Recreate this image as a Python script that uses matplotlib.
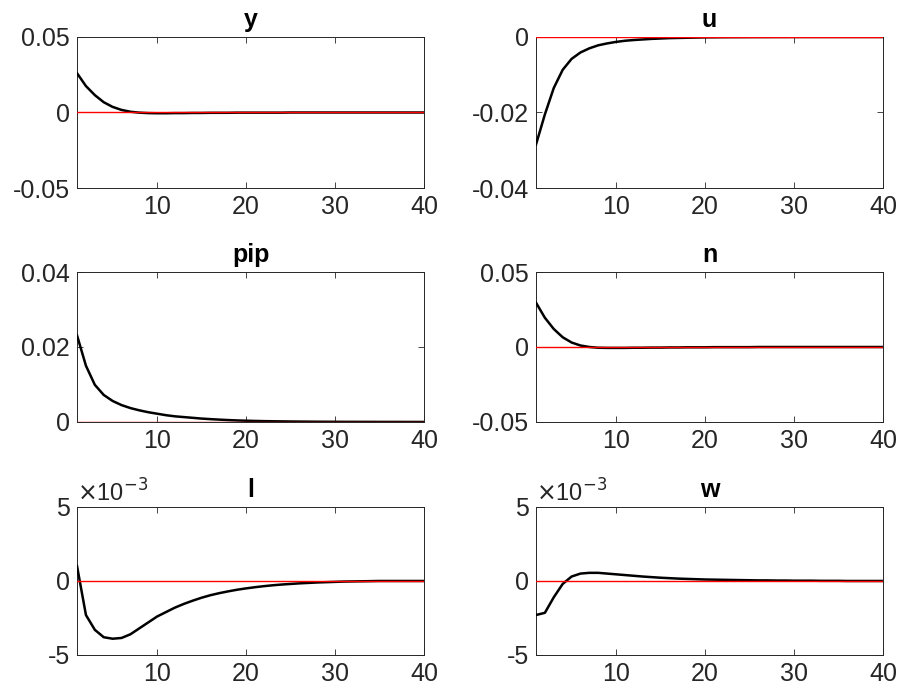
import matplotlib
matplotlib.use("Agg")
import matplotlib.pyplot as plt
import numpy as np

plt.rcParams['font.family'] = ['Liberation Sans', 'DejaVu Sans']
plt.rcParams['axes.unicode_minus'] = False

periods = np.arange(1, 41)

y_irf = [0.026, 0.0175, 0.0115, 0.0068, 0.0037, 0.0017, 0.0005, -0.0001, -0.0004, -0.0005,
         -0.0005, -0.0004, -0.0004, -0.0003, -0.0003, -0.0002, -0.0002, -0.0002, -0.0001, -0.0001,
         -0.0001, -0.0001, -0.0001, -0.0001, 0.0, 0.0, 0.0, 0.0, 0.0, 0.0,
         0.0, 0.0, 0.0, 0.0, 0.0, 0.0, 0.0, 0.0, 0.0, 0.0]
u_irf = [-0.0285, -0.0205, -0.0135, -0.0087, -0.0058, -0.0041, -0.0030, -0.0022, -0.0017, -0.0013,
         -0.0010, -0.0008, -0.00065, -0.0005, -0.0004, -0.0003, -0.00025, -0.0002, -0.00015, -0.0001,
         -0.00008, -0.00006, -0.00005, -0.00004, -0.00003, -0.00002, -0.00002, -0.00001, -0.00001, 0.0,
         0.0, 0.0, 0.0, 0.0, 0.0, 0.0, 0.0, 0.0, 0.0, 0.0]
pip_irf = [0.0231, 0.0150, 0.0099, 0.0072, 0.0056, 0.0045, 0.0037, 0.0031, 0.0026, 0.0022,
           0.0018, 0.0015, 0.0013, 0.0011, 0.0009, 0.00075, 0.00062, 0.0005, 0.0004, 0.00033,
           0.00027, 0.00022, 0.00018, 0.00015, 0.00012, 0.0001, 0.00008, 0.00006, 0.00005, 0.00004,
           0.00003, 0.00003, 0.00002, 0.00002, 0.00001, 0.00001, 0.00001, 0.0, 0.0, 0.0]
n_irf = [0.0296, 0.0195, 0.0120, 0.0065, 0.0030, 0.0010, 0.0000, -0.0005, -0.0006, -0.0006,
         -0.0006, -0.0005, -0.0005, -0.0004, -0.0004, -0.0003, -0.0003, -0.0002, -0.0002, -0.0002,
         -0.0001, -0.0001, -0.0001, -0.0001, -0.0001, 0.0, 0.0, 0.0, 0.0, 0.0,
         0.0, 0.0, 0.0, 0.0, 0.0, 0.0, 0.0, 0.0, 0.0, 0.0]
l_irf = [0.0010, -0.0023, -0.0033, -0.0038, -0.0039, -0.00385, -0.0036, -0.0032, -0.0028, -0.0024,
         -0.0021, -0.0018, -0.00155, -0.00133, -0.00113, -0.00096, -0.00082, -0.0007, -0.00059, -0.0005,
         -0.00042, -0.00035, -0.00029, -0.00024, -0.0002, -0.00016, -0.00013, -0.0001, -0.00008, -0.00006,
         -0.00004, -0.00003, -0.00002, -0.00001, 0.0, 0.0, 0.0, 0.0, 0.0, 0.0]
w_irf = [-0.0023, -0.00215, -0.0011, -0.0002, 0.0003, 0.0005, 0.00055, 0.00055, 0.0005, 0.00045,
         0.0004, 0.00035, 0.0003, 0.00026, 0.00022, 0.00019, 0.00016, 0.00014, 0.00012, 0.0001,
         0.00009, 0.00008, 0.00007, 0.00006, 0.00005, 0.00004, 0.00004, 0.00003, 0.00003, 0.00002,
         0.00002, 0.00002, 0.00001, 0.00001, 0.00001, 0.0, 0.0, 0.0, 0.0, 0.0]

titles = ['y', 'u', 'pip', 'n', 'l', 'w']
series = [y_irf, u_irf, pip_irf, n_irf, l_irf, w_irf]
ylims = [(-0.05, 0.05), (-0.04, 0.0), (0.0, 0.04), (-0.05, 0.05), (-0.005, 0.005), (-0.005, 0.005)]
yticks = [[-0.05, 0, 0.05], [-0.04, -0.02, 0], [0, 0.02, 0.04], [-0.05, 0, 0.05],
          [-0.005, 0, 0.005], [-0.005, 0, 0.005]]
yticklabels = [['-0.05', '0', '0.05'], ['-0.04', '-0.02', '0'], ['0', '0.02', '0.04'],
               ['-0.05', '0', '0.05'], ['-5', '0', '5'], ['-5', '0', '5']]
xticks = [10, 20, 30, 40]

fig = plt.figure(figsize=(8.99, 6.94), dpi=100)
lefts = [0.0857, 0.5962]
bottoms = [0.7291, 0.392, 0.0562]
heights = [0.2176, 0.216, 0.2133]
width = 0.386

for i in range(6):
    r, c = divmod(i, 2)
    ax = fig.add_axes([lefts[c], bottoms[r], width, heights[r]])
    ax.plot(periods, series[i], color='black', lw=1.8, zorder=3)
    ax.plot(periods, np.zeros(len(periods)), color='red', lw=1.0, zorder=4)
    ax.set_xlim(1, 40)
    ax.set_ylim(*ylims[i])
    ax.set_xticks(xticks)
    ax.set_xticklabels([str(t) for t in xticks])
    ax.set_yticks(yticks[i])
    ax.set_yticklabels(yticklabels[i])
    ax.tick_params(direction='in', top=True, right=True, labelsize=18, length=4,
                   width=0.6, colors='#262626', labelcolor='#262626', pad=5)
    for s in ax.spines.values():
        s.set_linewidth(0.7)
        s.set_color('#262626')
    ax.set_title(titles[i], fontsize=18, fontweight='bold', pad=7)
    if i >= 4:
        ax.text(0.0, 1.0, r'$\times$10$^{-3}$', transform=ax.transAxes, fontsize=17,
                ha='left', va='bottom', color='#262626')

fig.savefig('out.png', dpi=100)
